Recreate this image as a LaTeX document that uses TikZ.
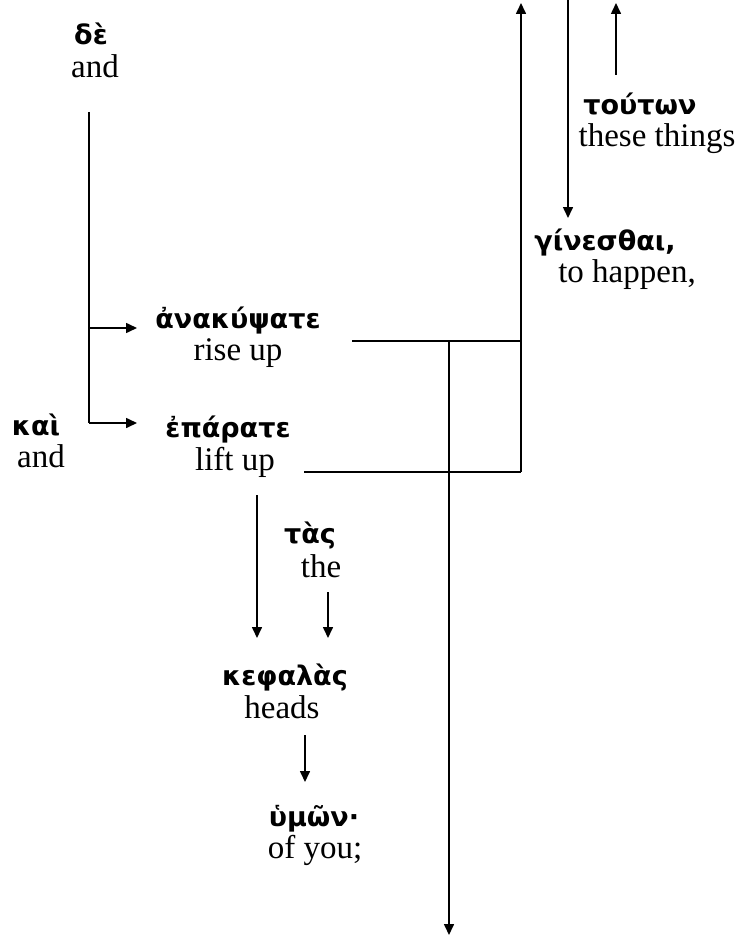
\documentclass[tikz,border=0pt]{standalone}
\usepackage{fontspec}
\setmainfont{Liberation Serif}
\newfontfamily\grk{DejaVu Sans Bold}
\usetikzlibrary{arrows.meta}
\tikzset{
  gk/.style={font=\grk\fontsize{27}{32}\selectfont, anchor=base, inner sep=0pt},
  en/.style={font=\fontsize{33}{38}\selectfont, anchor=base, inner sep=0pt},
  ln/.style={line width=1.6pt},
  arr/.style={ln, -{Triangle[length=11pt,width=10pt]}},
}
\begin{document}
\begin{tikzpicture}[x=1pt,y=-1pt]
\useasboundingbox (0,0) rectangle (736,936);
% texts
\node[gk] (de) at (91,45) {δὲ};
\node[en] (deE) at (95,78) {and};
\node[gk] (tout) at (640,115) {τούτων};
\node[en] (toutE) at (657,147) {these things};
\node[gk] (gin) at (605,250) {γίνεσθαι,};
\node[en] (ginE) at (627,282) {to happen,};
\node[gk] (anak) at (238,328) {ἀνακύψατε};
\node[en] (anakE) at (238,360) {rise up};
\node[gk] (kai) at (36,435) {καὶ};
\node[en] (kaiE) at (41,467) {and};
\node[gk] (epar) at (228,437) {ἐπάρατε};
\node[en] (eparE) at (235,470) {lift up};
\node[gk] (tas) at (310,543) {τὰς};
\node[en] (tasE) at (321,577) {the};
\node[gk] (kef) at (285,685) {κεφαλὰς};
\node[en] (kefE) at (282,718) {heads};
\node[gk] (hum) at (314,826) {ὑμῶν·};
\node[en] (humE) at (315,858) {of you;};
% coordinates
\coordinate (c1) at (89,112);
\coordinate (c2) at (89,328);
\coordinate (c3) at (89,423);
\coordinate (a1) at (137,328);
\coordinate (a2) at (137,423);
\coordinate (r1) at (352,341);
\coordinate (j1) at (449,341);
\coordinate (t1) at (521,341);
\coordinate (r2) at (304,472);
\coordinate (t2) at (521,472);
\coordinate (top1) at (521,3);
\coordinate (bot) at (449,935);
\coordinate (g0) at (568,0);
\coordinate (g1) at (568,218);
\coordinate (u0) at (616,75);
\coordinate (u1) at (616,3);
\coordinate (k0) at (257,495);
\coordinate (k1) at (257,638);
\coordinate (s0) at (328,592);
\coordinate (s1) at (328,638);
\coordinate (h0) at (305,735);
\coordinate (h1) at (305,782);
% connectors
\draw[ln] (c1) -- (c3);
\draw[arr] (c2) -- (a1);
\draw[arr] (c3) -- (a2);
\draw[ln] (r1) -- (t1);
\draw[ln] (r2) -- (t2);
\draw[arr] (t2) -- (top1);
\draw[arr] (j1) -- (bot);
\draw[arr] (g0) -- (g1);
\draw[arr] (u0) -- (u1);
\draw[arr] (k0) -- (k1);
\draw[arr] (s0) -- (s1);
\draw[arr] (h0) -- (h1);
\end{tikzpicture}
\end{document}
